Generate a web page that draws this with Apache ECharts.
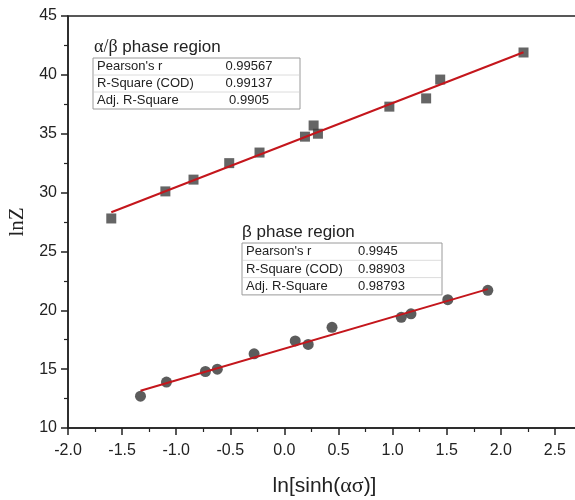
<!DOCTYPE html>
<html lang="en">
<head>
    <meta charset="UTF-8">
    <title>lnZ vs ln[sinh(ασ)]</title>
    <script src="https://cdn.jsdelivr.net/npm/echarts/dist/echarts.min.js"></script>
    <style>
        html, body { margin: 0; padding: 0; background: #fff; }
    </style>
</head>
<body>
    <div id="main" style="width: 575px;height:500px;"></div>
    <script>
        // alpha/beta phase region (squares)
        const alphaX = [-1.60, -1.10, -0.84, -0.51, -0.23, 0.19, 0.27, 0.31, 0.97, 1.31, 1.44, 2.21];
        const alphaY = [27.8, 30.1, 31.1, 32.5, 33.4, 34.75, 35.7, 35.0, 37.3, 38.0, 39.6, 41.9];
        const alphaFitX = [-1.60, 2.21];
        const alphaFitY = [28.33, 41.92];

        // beta phase region (circles)
        const betaX = [-1.33, -1.09, -0.73, -0.62, -0.28, 0.10, 0.22, 0.44, 1.08, 1.17, 1.51, 1.88];
        const betaY = [12.7, 13.9, 14.8, 15.0, 16.3, 17.4, 17.1, 18.55, 19.4, 19.7, 20.9, 21.7];
        const betaFitX = [-1.33, 1.88];
        const betaFitY = [13.17, 21.8];

        // fit statistics tables
        const statLabels = ["Pearson's r", 'R-Square (COD)', 'Adj. R-Square'];
        const alphaStats = ['0.99567', '0.99137', '0.9905'];
        const betaStats = ['0.9945', '0.98903', '0.98793'];

        const pairs = (xs, ys) => xs.map((x, i) => [x, ys[i]]);

        const font = '"Liberation Sans", Arial, sans-serif';
        const serif = '"Liberation Serif", "Times New Roman", serif';

        function table(left, top, width, rowH, valueX, valueAlign, values) {
            const els = [];
            els.push({
                type: 'rect',
                shape: { x: left, y: top, width: width, height: rowH * 3 },
                style: { fill: '#fff', stroke: '#9a9a9a', lineWidth: 1 },
                z: 10
            });
            for (let i = 1; i < 3; i++) {
                els.push({
                    type: 'line',
                    shape: { x1: left + 1, y1: top + rowH * i, x2: left + width - 1, y2: top + rowH * i },
                    style: { stroke: '#dcdcdc', lineWidth: 1 },
                    z: 11
                });
            }
            statLabels.forEach((lab, i) => {
                els.push({
                    type: 'text', z: 12,
                    style: {
                        x: left + 4, y: top + rowH * i + rowH / 2, text: lab,
                        font: '13px ' + font, fill: '#222',
                        textAlign: 'left', textVerticalAlign: 'middle'
                    }
                });
                els.push({
                    type: 'text', z: 12,
                    style: {
                        x: valueX, y: top + rowH * i + rowH / 2, text: values[i],
                        font: '13px ' + font, fill: '#222',
                        textAlign: valueAlign, textVerticalAlign: 'middle'
                    }
                });
            });
            return els;
        }

        const chart = echarts.init(document.getElementById('main'));

        const option = {
            animation: false,
            grid: {
                left: 68, right: -34, top: 16, bottom: 72,
                outerBoundsMode: 'none',
                show: true, borderColor: '#222', borderWidth: 1.5
            },
            xAxis: {
                type: 'value',
                min: -2, max: 3, interval: 0.5,
                name: 'ln[sinh({g|ασ})]',
                nameLocation: 'middle',
                nameGap: 47,
                nameTextStyle: {
                    fontFamily: font, fontSize: 21, color: '#222',
                    padding: [0, 28, 0, 0],
                    rich: { g: { fontFamily: serif, fontSize: 22, color: '#222' } }
                },
                axisLine: { onZero: false, lineStyle: { color: '#222', width: 1.5 } },
                axisTick: { inside: false, length: 7, lineStyle: { color: '#222', width: 1.5 } },
                minorTick: { show: true, splitNumber: 2, length: 4, lineStyle: { color: '#222', width: 1.2 } },
                splitLine: { show: false },
                axisLabel: {
                    fontFamily: font, fontSize: 16, color: '#222', margin: 15,
                    showMaxLabel: false,
                    formatter: v => v.toFixed(1)
                }
            },
            yAxis: {
                type: 'value',
                min: 10, max: 45, interval: 5,
                name: 'lnZ',
                nameLocation: 'middle',
                nameGap: 40,
                nameTextStyle: { fontFamily: serif, fontSize: 21, color: '#222' },
                axisLine: { onZero: false, lineStyle: { color: '#222', width: 1.5 } },
                axisTick: { inside: false, length: 7, lineStyle: { color: '#222', width: 1.5 } },
                minorTick: { show: true, splitNumber: 2, length: 4, lineStyle: { color: '#222', width: 1.2 } },
                splitLine: { show: false },
                axisLabel: { fontFamily: font, fontSize: 16, color: '#222', margin: 11 }
            },
            series: [
                {
                    name: 'alpha/beta', type: 'scatter',
                    symbol: 'rect', symbolSize: 10,
                    itemStyle: { color: '#3f3f3f' },
                    data: pairs(alphaX, alphaY), z: 2
                },
                {
                    name: 'beta', type: 'scatter',
                    symbol: 'circle', symbolSize: 11,
                    itemStyle: { color: '#333' },
                    data: pairs(betaX, betaY), z: 2
                },
                {
                    name: 'alpha/beta fit', type: 'line',
                    showSymbol: false, symbol: 'none',
                    lineStyle: { color: '#c4161c', width: 2 },
                    data: pairs(alphaFitX, alphaFitY), z: 3
                },
                {
                    name: 'beta fit', type: 'line',
                    showSymbol: false, symbol: 'none',
                    lineStyle: { color: '#c4161c', width: 2 },
                    data: pairs(betaFitX, betaFitY), z: 3
                }
            ],
            graphic: [
                {
                    type: 'text', z: 12,
                    style: {
                        x: 94, y: 47, text: '{g|α/β} phase region',
                        font: '17px ' + font, fill: '#222',
                        textAlign: 'left', textVerticalAlign: 'middle',
                        rich: { g: { fontFamily: serif, fontSize: 18, fill: '#222' } }
                    }
                },
                ...table(93, 58, 207, 17, 249, 'center', alphaStats),
                {
                    type: 'text', z: 12,
                    style: {
                        x: 242, y: 232, text: 'β phase region',
                        font: '17px ' + font, fill: '#222',
                        textAlign: 'left', textVerticalAlign: 'middle',
                        rich: {}
                    }
                },
                ...table(242, 243, 200, 17.3, 358, 'left', betaStats)
            ]
        };

        chart.setOption(option);
    </script>
</body>
</html>
